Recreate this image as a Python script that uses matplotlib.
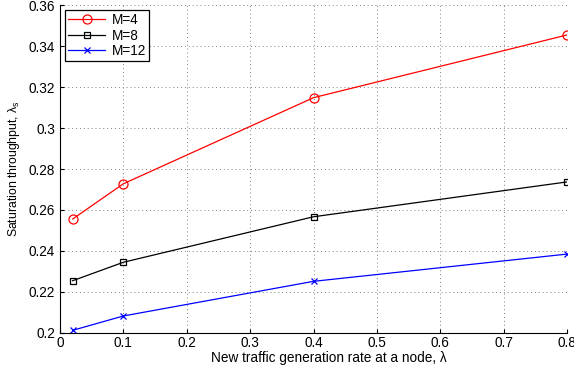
import matplotlib
matplotlib.use("Agg")
import matplotlib.pyplot as plt

rate = [0.02, 0.1, 0.4, 0.8]
thr_m4 = [0.2556, 0.2728, 0.3148, 0.3454]
thr_m8 = [0.2255, 0.2345, 0.2567, 0.2737]
thr_m12 = [0.2013, 0.2083, 0.2252, 0.2385]
series_labels = ["M=4", "M=8", "M=12"]
xticks = [0, 0.1, 0.2, 0.3, 0.4, 0.5, 0.6, 0.7, 0.8]
yticks = [0.2, 0.22, 0.24, 0.26, 0.28, 0.3, 0.32, 0.34, 0.36]

plt.rcParams["font.family"] = ["Liberation Sans", "DejaVu Sans"]
plt.rcParams["mathtext.fontset"] = "custom"
plt.rcParams["mathtext.rm"] = "Liberation Sans"
plt.rcParams["mathtext.it"] = "Liberation Sans"

fig = plt.figure(figsize=(5.74, 3.69), dpi=100)
ax = fig.add_axes([0.1045, 0.0976, 0.8835, 0.8888])

ax.plot(rate, thr_m4, "o-", color="red", lw=0.9, ms=6.5, mfc="none", mew=0.9, label=series_labels[0])
ax.plot(rate, thr_m8, "s-", color="black", lw=0.9, ms=5, mfc="none", mew=0.9, label=series_labels[1])
ax.plot(rate, thr_m12, "x-", color="blue", lw=0.9, ms=4.5, mew=0.9, label=series_labels[2])

ax.set_xlim(0, 0.8)
ax.set_ylim(0.2, 0.36)
ax.set_xticks(xticks)
ax.set_xticklabels([f"{v:g}" for v in xticks])
ax.set_yticks(yticks)
ax.set_yticklabels([f"{v:g}" for v in yticks])
ax.grid(True, linestyle=(0, (1, 3)), color="#808080", lw=0.7)
ax.tick_params(direction="in", labelsize=9.8, length=3)
ax.tick_params(axis="x", pad=2)
for side in ["top", "right"]:
    ax.spines[side].set_visible(False)

ax.set_xlabel("New traffic generation rate at a node, λ", fontsize=9.8, labelpad=0)
ax.xaxis.set_label_coords(0.53, -0.055)
ax.set_ylabel("Saturation throughput, λ$_\\mathregular{s}$", fontsize=8.8, labelpad=5)

leg = ax.legend(loc="upper left", fontsize=9.8, fancybox=False, framealpha=1,
                edgecolor="black", borderaxespad=0.35, handlelength=2.7,
                labelspacing=0.1, borderpad=0.25, handletextpad=0.5)
leg.get_frame().set_linewidth(0.9)

fig.savefig("out.png", dpi=100)
